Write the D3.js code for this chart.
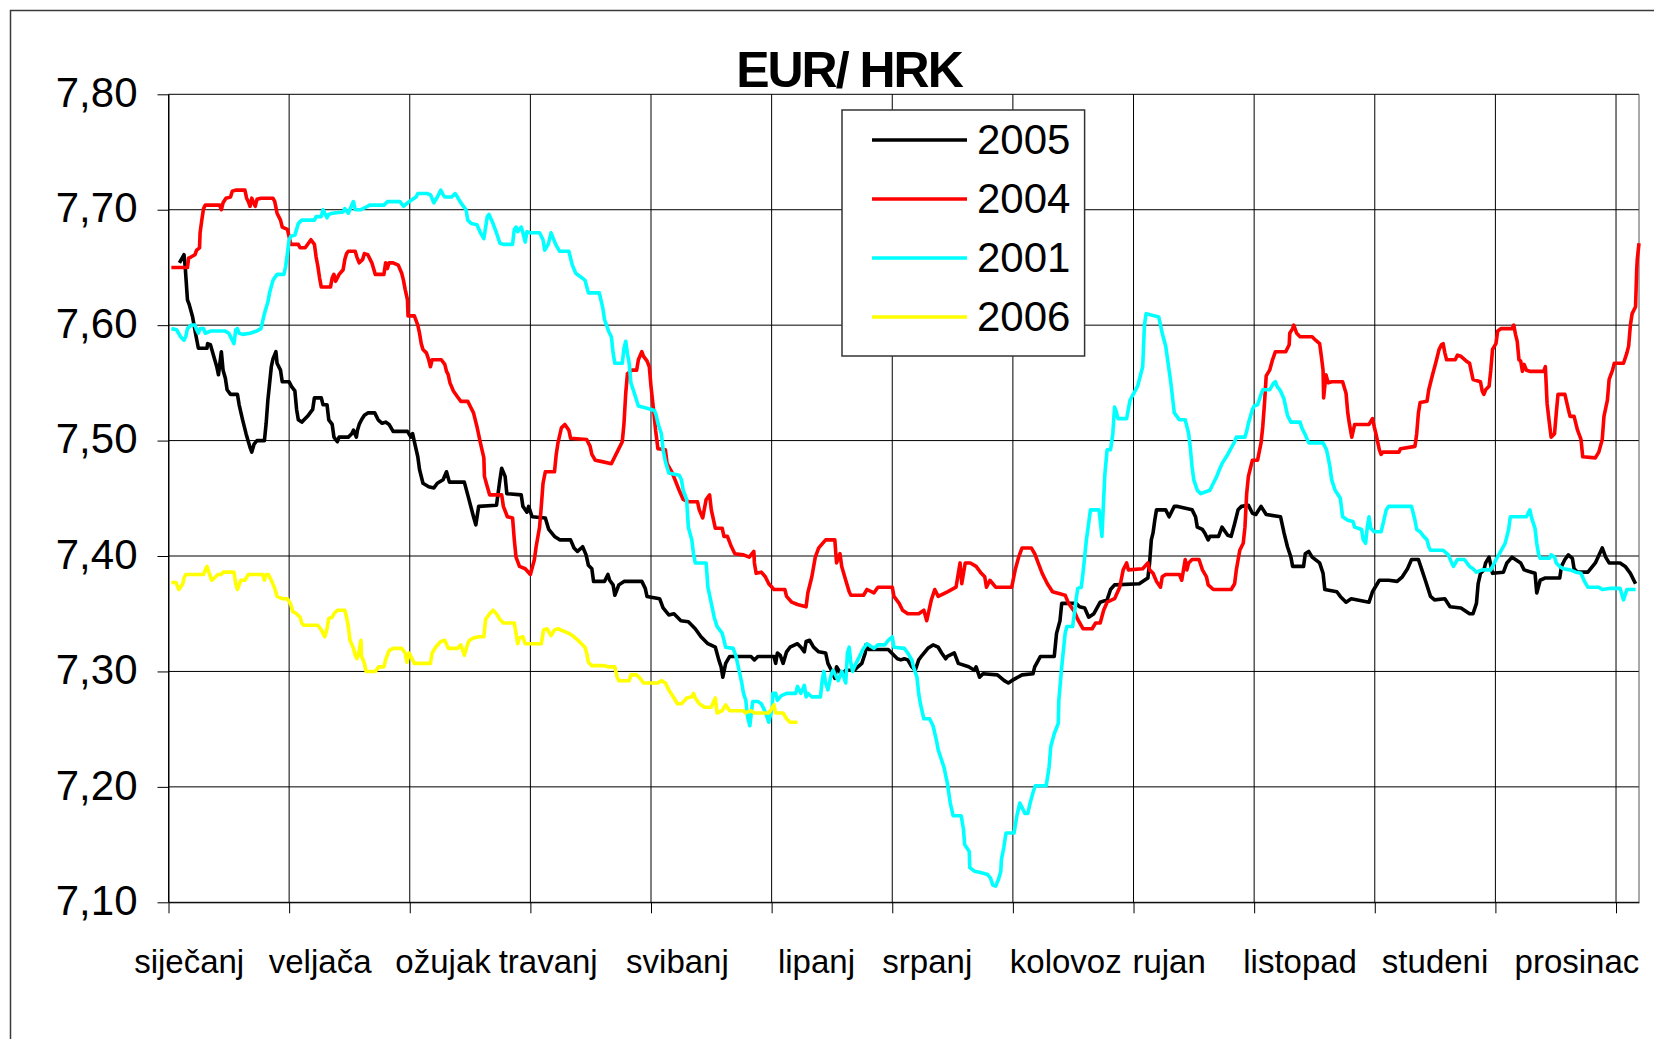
<!DOCTYPE html>
<html>
<head>
<meta charset="utf-8">
<script src="https://cdn.jsdelivr.net/npm/d3@7/dist/d3.min.js"></script>
<style>
  body { margin: 0; background: #fff; }
  svg text { font-family: "Liberation Sans", Arial, sans-serif; fill: #000; }
</style>
</head>
<body>
<div id="chart"></div>
<script>
// month labels and the working-day index each label sits over
const months = ["siječanj", "veljača", "ožujak", "travanj", "svibanj", "lipanj",
                "srpanj", "kolovoz", "rujan", "listopad", "studeni", "prosinac"];
const monthLabelDay = [3.6, 26.4, 47.8, 66.1, 88.6, 112.8, 132.1, 156.2, 174.2, 197.0, 220.5, 245.2];
const monthTickDays = [0, 21, 42, 63, 84, 105, 126, 147, 168, 189, 210, 231, 252];
const yTicks = [7.1, 7.2, 7.3, 7.4, 7.5, 7.6, 7.7, 7.8];

// [working day, EUR/HRK]
const s2005 = [[1.9,7.654],[2.7,7.661],[2.9,7.651],[3.3,7.622],[3.6,7.618],[4.2,7.607],[4.7,7.593],[5.2,7.58],[6.7,7.58],[6.8,7.584],[7.3,7.583],[8.0,7.571],[8.4,7.564],[8.7,7.557],[9.2,7.577],[9.5,7.561],[9.9,7.554],[10.2,7.544],[10.8,7.54],[12.0,7.54],[12.3,7.531],[12.9,7.518],[13.5,7.506],[14.2,7.494],[14.5,7.49],[14.9,7.497],[15.4,7.5],[16.7,7.5],[17.0,7.515],[17.3,7.535],[17.9,7.564],[18.2,7.571],[18.7,7.577],[18.9,7.567],[19.5,7.561],[19.8,7.551],[21.0,7.551],[21.4,7.547],[22.0,7.543],[22.3,7.527],[22.6,7.518],[23.2,7.516],[24.2,7.521],[25.1,7.527],[25.4,7.537],[26.6,7.537],[26.9,7.531],[27.6,7.531],[27.9,7.518],[28.5,7.514],[28.8,7.503],[29.4,7.499],[29.7,7.503],[31.3,7.503],[31.9,7.506],[32.2,7.509],[32.7,7.503],[32.9,7.509],[33.2,7.514],[33.6,7.518],[34.1,7.522],[34.7,7.524],[35.9,7.524],[36.5,7.518],[37.2,7.515],[37.8,7.516],[38.4,7.514],[39.1,7.508],[41.6,7.508],[42.2,7.503],[42.5,7.506],[42.8,7.499],[43.4,7.486],[43.7,7.475],[44.3,7.463],[45.3,7.46],[46.2,7.459],[46.8,7.463],[47.8,7.466],[48.4,7.473],[48.9,7.464],[51.5,7.464],[52.2,7.451],[53.1,7.434],[53.5,7.427],[54.0,7.443],[57.1,7.444],[57.7,7.466],[58.0,7.476],[58.6,7.469],[58.9,7.454],[61.4,7.453],[61.7,7.443],[62.4,7.438],[62.7,7.443],[63.3,7.434],[65.6,7.433],[66.2,7.423],[67.2,7.417],[68.1,7.414],[70.0,7.414],[70.6,7.407],[71.2,7.404],[72.1,7.408],[72.7,7.401],[73.1,7.392],[73.7,7.389],[74.0,7.378],[75.9,7.378],[76.5,7.384],[76.8,7.379],[77.4,7.375],[77.7,7.366],[78.4,7.375],[79.3,7.378],[82.4,7.378],[83.0,7.372],[83.3,7.365],[85.5,7.363],[86.1,7.355],[87.1,7.349],[88.0,7.35],[88.6,7.347],[89.2,7.344],[90.5,7.343],[91.7,7.337],[92.7,7.33],[93.9,7.324],[95.2,7.321],[95.8,7.31],[96.2,7.304],[96.5,7.295],[97.0,7.307],[97.7,7.313],[101.4,7.313],[102.0,7.31],[102.6,7.313],[105.4,7.313],[105.7,7.307],[106.0,7.316],[106.5,7.314],[107.0,7.307],[107.6,7.317],[108.2,7.321],[109.5,7.324],[110.1,7.321],[110.7,7.317],[111.0,7.326],[111.6,7.327],[112.3,7.321],[113.2,7.317],[114.4,7.316],[114.8,7.307],[115.4,7.301],[116.0,7.294],[116.3,7.304],[117.2,7.297],[117.9,7.301],[119.4,7.301],[120.0,7.304],[120.7,7.307],[121.3,7.316],[121.4,7.323],[121.9,7.319],[125.3,7.319],[125.9,7.316],[126.9,7.311],[127.5,7.31],[128.1,7.311],[128.7,7.31],[129.4,7.304],[130.0,7.301],[130.6,7.31],[131.2,7.314],[132.2,7.32],[133.1,7.323],[134.0,7.321],[134.6,7.316],[135.3,7.311],[135.6,7.313],[136.8,7.316],[137.5,7.307],[139.3,7.304],[140.3,7.301],[140.6,7.304],[141.2,7.295],[141.8,7.298],[144.3,7.297],[145.5,7.292],[146.2,7.29],[146.8,7.292],[148.6,7.297],[150.5,7.298],[150.8,7.304],[151.8,7.313],[154.2,7.313],[154.6,7.333],[155.2,7.344],[155.5,7.359],[158.0,7.359],[158.6,7.356],[159.5,7.355],[160.2,7.347],[161.1,7.35],[162.2,7.36],[163.4,7.362],[164.0,7.371],[164.7,7.375],[169.0,7.376],[169.9,7.379],[170.5,7.381],[170.8,7.394],[171.1,7.414],[171.4,7.42],[171.7,7.431],[172.0,7.44],[173.6,7.44],[174.2,7.434],[175.1,7.443],[175.7,7.443],[178.2,7.44],[178.8,7.434],[179.1,7.425],[180.0,7.423],[180.4,7.42],[181.0,7.414],[181.3,7.417],[182.8,7.417],[183.4,7.425],[184.4,7.418],[185.0,7.417],[185.6,7.428],[186.2,7.44],[186.8,7.443],[188.0,7.444],[188.7,7.437],[189.3,7.436],[190.2,7.443],[191.1,7.436],[193.6,7.434],[194.2,7.42],[194.8,7.408],[195.4,7.399],[195.7,7.391],[197.6,7.391],[197.9,7.402],[198.5,7.404],[199.1,7.399],[200.4,7.394],[201.0,7.385],[201.3,7.371],[203.4,7.369],[204.0,7.365],[205.0,7.36],[205.9,7.363],[209.0,7.36],[209.6,7.369],[210.8,7.379],[212.4,7.379],[213.9,7.378],[214.8,7.382],[215.7,7.389],[216.4,7.397],[217.6,7.397],[218.2,7.388],[218.8,7.379],[219.7,7.365],[220.4,7.362],[222.2,7.363],[223.1,7.356],[225.0,7.355],[226.5,7.35],[227.1,7.35],[227.7,7.359],[228.0,7.376],[228.4,7.385],[229.0,7.388],[229.3,7.394],[229.9,7.399],[230.5,7.385],[232.4,7.386],[233.0,7.394],[233.9,7.399],[235.4,7.394],[236.0,7.388],[237.3,7.386],[237.9,7.385],[238.2,7.368],[238.8,7.379],[239.7,7.381],[242.2,7.381],[242.5,7.391],[243.1,7.397],[243.7,7.401],[244.4,7.398],[244.7,7.389],[245.3,7.386],[247.1,7.386],[248.4,7.394],[249.6,7.407],[250.2,7.399],[250.8,7.394],[252.7,7.394],[253.6,7.391],[254.5,7.385],[255.4,7.376]];

const s2004 = [[0.5,7.65],[3.3,7.65],[3.5,7.658],[3.9,7.659],[4.6,7.661],[4.9,7.665],[5.4,7.667],[5.5,7.68],[5.8,7.691],[6.1,7.701],[6.4,7.704],[8.9,7.704],[9.2,7.7],[9.5,7.706],[10.0,7.71],[10.8,7.711],[11.1,7.716],[11.7,7.717],[13.3,7.717],[13.6,7.71],[13.9,7.707],[14.2,7.703],[14.5,7.71],[14.8,7.706],[15.1,7.703],[15.4,7.709],[16.1,7.71],[18.2,7.71],[18.5,7.707],[18.9,7.697],[19.5,7.691],[19.8,7.685],[20.7,7.683],[21.3,7.67],[22.6,7.67],[22.9,7.667],[23.8,7.667],[24.8,7.674],[25.4,7.67],[25.7,7.659],[26.0,7.651],[26.3,7.641],[26.6,7.633],[28.2,7.633],[28.5,7.641],[28.8,7.644],[29.1,7.638],[29.7,7.644],[30.4,7.648],[30.7,7.657],[31.0,7.662],[31.3,7.664],[32.5,7.664],[32.8,7.659],[33.2,7.654],[33.8,7.657],[34.1,7.662],[34.7,7.661],[35.4,7.654],[36.0,7.644],[37.5,7.644],[37.8,7.654],[38.1,7.649],[38.4,7.654],[39.1,7.654],[40.0,7.652],[40.6,7.645],[40.9,7.639],[41.2,7.631],[41.6,7.622],[41.7,7.608],[42.8,7.608],[43.4,7.6],[43.7,7.593],[44.0,7.584],[44.3,7.579],[44.9,7.576],[45.3,7.57],[45.6,7.564],[45.9,7.57],[47.5,7.57],[48.1,7.566],[48.4,7.56],[48.7,7.557],[49.0,7.55],[49.6,7.543],[50.3,7.538],[50.9,7.534],[52.1,7.534],[52.7,7.528],[53.1,7.524],[53.7,7.512],[54.3,7.498],[54.9,7.485],[55.0,7.469],[55.5,7.46],[55.9,7.453],[58.0,7.453],[58.3,7.443],[59.0,7.434],[59.9,7.433],[60.2,7.414],[60.5,7.399],[61.1,7.391],[62.1,7.389],[63.0,7.384],[63.7,7.397],[64.0,7.408],[64.6,7.425],[64.9,7.443],[65.2,7.463],[65.6,7.473],[67.2,7.473],[67.5,7.488],[67.8,7.498],[68.4,7.511],[69.0,7.514],[69.7,7.509],[70.0,7.502],[72.8,7.501],[73.4,7.495],[73.7,7.488],[74.3,7.483],[75.3,7.482],[77.1,7.48],[77.7,7.486],[78.4,7.493],[79.0,7.499],[79.3,7.515],[79.6,7.541],[79.9,7.558],[80.7,7.561],[81.5,7.561],[81.8,7.57],[82.4,7.577],[82.7,7.573],[83.3,7.569],[83.7,7.564],[84.0,7.547],[84.5,7.524],[84.8,7.509],[85.2,7.493],[86.5,7.492],[86.8,7.48],[87.7,7.472],[88.9,7.457],[89.6,7.449],[90.5,7.447],[92.1,7.447],[92.4,7.44],[93.0,7.433],[93.6,7.449],[94.2,7.453],[94.5,7.44],[95.2,7.424],[96.4,7.424],[96.7,7.417],[97.3,7.417],[98.0,7.408],[98.6,7.402],[100.1,7.401],[101.1,7.399],[101.9,7.404],[102.0,7.394],[102.3,7.385],[103.2,7.386],[103.9,7.382],[104.5,7.376],[105.4,7.371],[107.3,7.371],[107.6,7.365],[108.5,7.36],[109.5,7.358],[111.0,7.356],[111.3,7.368],[112.0,7.382],[112.6,7.399],[113.2,7.407],[114.4,7.414],[116.0,7.414],[116.3,7.394],[116.9,7.402],[117.2,7.391],[117.9,7.379],[118.5,7.369],[118.8,7.366],[121.0,7.366],[121.6,7.371],[122.8,7.368],[123.5,7.373],[126.0,7.373],[126.3,7.365],[127.2,7.359],[127.8,7.353],[128.7,7.35],[130.6,7.35],[131.5,7.353],[132.0,7.344],[132.8,7.362],[133.4,7.371],[134.0,7.365],[135.6,7.369],[137.1,7.373],[137.5,7.385],[137.8,7.394],[138.1,7.376],[138.7,7.394],[139.6,7.394],[140.6,7.391],[141.5,7.385],[142.1,7.382],[142.4,7.373],[143.0,7.379],[144.0,7.373],[146.8,7.373],[147.4,7.388],[148.0,7.399],[148.6,7.407],[150.2,7.407],[150.8,7.402],[151.4,7.394],[152.1,7.385],[153.0,7.376],[153.9,7.369],[156.1,7.366],[156.7,7.359],[157.7,7.352],[158.3,7.345],[159.2,7.337],[160.8,7.337],[161.4,7.342],[162.2,7.342],[162.8,7.353],[163.4,7.36],[164.7,7.363],[165.6,7.373],[166.2,7.388],[166.8,7.394],[167.1,7.388],[169.6,7.389],[170.5,7.394],[170.8,7.388],[171.4,7.385],[172.0,7.378],[172.7,7.373],[173.0,7.382],[173.6,7.384],[176.0,7.384],[176.4,7.379],[177.0,7.397],[177.3,7.388],[177.6,7.394],[178.2,7.397],[179.4,7.397],[180.0,7.388],[180.7,7.382],[181.0,7.375],[181.9,7.371],[185.0,7.371],[185.6,7.376],[185.9,7.388],[186.5,7.405],[187.1,7.411],[187.4,7.425],[187.7,7.454],[188.0,7.469],[188.7,7.483],[189.6,7.483],[190.2,7.498],[190.5,7.512],[190.8,7.532],[191.1,7.556],[191.7,7.561],[192.2,7.57],[192.7,7.577],[194.5,7.577],[195.1,7.583],[195.2,7.593],[195.7,7.597],[195.9,7.6],[196.4,7.593],[197.0,7.59],[199.1,7.59],[199.7,7.587],[200.4,7.584],[200.7,7.573],[201.0,7.561],[201.1,7.537],[201.5,7.557],[201.9,7.55],[202.5,7.551],[204.4,7.551],[205.0,7.541],[205.3,7.524],[205.6,7.514],[206.0,7.503],[206.5,7.514],[209.0,7.514],[209.6,7.519],[209.9,7.512],[210.2,7.506],[210.8,7.492],[211.1,7.488],[211.4,7.49],[214.2,7.49],[214.5,7.493],[217.0,7.495],[217.3,7.506],[217.6,7.524],[217.9,7.533],[219.1,7.534],[219.4,7.544],[220.0,7.556],[220.7,7.569],[221.2,7.579],[221.6,7.583],[221.9,7.584],[222.2,7.576],[222.5,7.57],[224.0,7.57],[224.4,7.574],[225.0,7.573],[225.9,7.569],[226.5,7.567],[226.8,7.56],[227.1,7.553],[228.4,7.551],[228.7,7.543],[229.0,7.54],[229.3,7.544],[229.9,7.547],[230.2,7.561],[230.5,7.579],[231.1,7.584],[231.4,7.595],[232.0,7.597],[233.9,7.597],[234.2,7.6],[234.5,7.592],[234.8,7.586],[235.1,7.57],[235.4,7.569],[235.7,7.56],[236.0,7.566],[236.4,7.561],[237.0,7.56],[239.4,7.56],[239.7,7.564],[240.0,7.532],[240.4,7.515],[240.7,7.503],[241.3,7.506],[241.6,7.524],[241.9,7.54],[243.1,7.54],[243.7,7.527],[244.0,7.521],[244.7,7.521],[245.3,7.509],[245.9,7.501],[246.2,7.486],[248.4,7.485],[249.0,7.49],[249.6,7.501],[249.9,7.521],[250.5,7.535],[250.8,7.553],[251.4,7.561],[251.7,7.567],[253.3,7.567],[253.9,7.576],[254.2,7.582],[254.5,7.6],[254.8,7.61],[255.4,7.616],[255.6,7.648],[255.7,7.657],[256.0,7.671]];

const s2001 = [[0.5,7.597],[1.4,7.596],[2.1,7.59],[2.7,7.587],[3.0,7.59],[3.3,7.597],[3.9,7.6],[4.6,7.6],[4.9,7.596],[5.2,7.593],[5.5,7.597],[6.1,7.597],[6.4,7.593],[7.4,7.595],[9.8,7.595],[10.5,7.593],[11.1,7.587],[11.4,7.584],[11.7,7.596],[12.0,7.597],[12.3,7.593],[12.9,7.592],[14.2,7.593],[15.4,7.595],[16.1,7.597],[16.7,7.61],[17.3,7.62],[17.6,7.628],[18.2,7.639],[18.9,7.644],[20.1,7.644],[20.4,7.651],[20.7,7.662],[21.0,7.674],[21.3,7.677],[22.0,7.678],[22.6,7.688],[23.2,7.691],[25.4,7.691],[25.7,7.694],[26.6,7.694],[26.9,7.7],[27.6,7.693],[27.9,7.696],[28.5,7.697],[30.4,7.698],[30.7,7.701],[31.3,7.697],[31.9,7.704],[32.2,7.707],[32.5,7.7],[33.5,7.7],[34.7,7.703],[35.0,7.704],[37.5,7.704],[38.1,7.707],[40.3,7.707],[40.9,7.703],[41.9,7.707],[42.5,7.709],[43.1,7.711],[43.4,7.714],[45.0,7.714],[45.6,7.713],[46.2,7.706],[46.8,7.711],[47.4,7.717],[47.8,7.713],[48.1,7.711],[49.3,7.711],[49.9,7.714],[50.3,7.711],[50.9,7.706],[51.8,7.7],[52.1,7.691],[52.7,7.688],[53.7,7.687],[54.3,7.68],[54.9,7.675],[55.5,7.694],[55.8,7.696],[56.5,7.688],[57.1,7.68],[57.7,7.671],[58.3,7.67],[59.9,7.67],[60.2,7.683],[60.5,7.685],[60.8,7.681],[61.4,7.685],[61.7,7.68],[62.1,7.672],[62.4,7.681],[63.0,7.68],[64.6,7.68],[65.2,7.674],[65.5,7.665],[66.1,7.67],[66.6,7.68],[67.4,7.67],[68.1,7.664],[69.7,7.664],[70.3,7.652],[70.9,7.645],[72.5,7.639],[73.1,7.628],[75.0,7.628],[75.6,7.615],[75.9,7.605],[76.6,7.595],[77.1,7.59],[77.4,7.576],[77.7,7.567],[79.0,7.567],[79.3,7.58],[79.6,7.586],[79.9,7.575],[80.2,7.567],[80.5,7.55],[81.1,7.541],[81.8,7.53],[83.3,7.528],[84.6,7.526],[84.9,7.522],[85.2,7.515],[85.8,7.506],[86.1,7.492],[86.5,7.482],[87.1,7.472],[88.9,7.47],[89.3,7.466],[89.6,7.457],[90.2,7.449],[90.5,7.425],[91.1,7.414],[91.4,7.402],[91.7,7.394],[93.6,7.394],[93.9,7.373],[94.5,7.359],[95.0,7.347],[95.5,7.339],[96.4,7.333],[97.0,7.321],[98.3,7.32],[98.8,7.313],[99.2,7.304],[99.8,7.29],[100.1,7.281],[100.5,7.275],[100.8,7.261],[101.2,7.253],[101.7,7.274],[102.6,7.274],[103.2,7.272],[103.9,7.265],[104.5,7.256],[105.1,7.269],[105.2,7.281],[105.7,7.281],[106.0,7.275],[106.7,7.279],[107.6,7.281],[109.2,7.281],[109.5,7.287],[110.1,7.281],[110.7,7.288],[111.0,7.278],[111.3,7.281],[112.0,7.278],[113.5,7.278],[113.8,7.292],[114.1,7.3],[114.4,7.29],[114.8,7.284],[115.4,7.298],[115.7,7.301],[116.6,7.292],[117.2,7.3],[117.9,7.29],[118.2,7.316],[118.5,7.321],[118.8,7.307],[119.1,7.3],[119.4,7.304],[120.0,7.31],[120.4,7.314],[121.0,7.32],[121.6,7.324],[122.8,7.32],[123.5,7.323],[124.7,7.323],[125.3,7.327],[126.0,7.33],[126.3,7.321],[128.1,7.32],[128.7,7.316],[129.4,7.31],[129.7,7.304],[130.3,7.295],[130.6,7.281],[130.9,7.272],[131.5,7.259],[132.5,7.259],[133.1,7.253],[133.7,7.24],[134.0,7.232],[135.0,7.217],[135.6,7.203],[136.1,7.186],[136.6,7.175],[138.0,7.175],[138.4,7.163],[138.6,7.15],[139.4,7.144],[139.5,7.13],[140.3,7.127],[141.2,7.126],[142.6,7.124],[143.1,7.121],[143.5,7.115],[144.0,7.114],[144.5,7.12],[144.9,7.127],[145.0,7.137],[145.4,7.147],[145.8,7.16],[147.2,7.16],[147.7,7.175],[148.2,7.186],[149.1,7.177],[149.6,7.177],[150.0,7.186],[150.5,7.195],[150.9,7.201],[152.8,7.201],[153.3,7.217],[153.6,7.235],[154.2,7.246],[154.9,7.255],[155.0,7.275],[155.5,7.304],[156.1,7.333],[156.4,7.339],[157.4,7.339],[157.7,7.35],[158.0,7.362],[158.3,7.372],[158.9,7.373],[159.2,7.385],[159.8,7.414],[160.1,7.425],[160.5,7.44],[162.0,7.44],[162.5,7.417],[163.0,7.47],[163.4,7.492],[164.0,7.492],[164.4,7.506],[164.7,7.529],[165.0,7.525],[165.3,7.519],[166.8,7.519],[167.4,7.535],[168.7,7.547],[169.6,7.564],[169.9,7.6],[170.2,7.61],[172.4,7.607],[173.0,7.593],[173.6,7.582],[174.5,7.55],[175.1,7.524],[176.0,7.518],[177.0,7.518],[177.6,7.506],[177.9,7.493],[178.2,7.477],[178.5,7.466],[179.1,7.457],[179.7,7.454],[181.3,7.457],[181.9,7.463],[182.5,7.469],[182.8,7.473],[183.4,7.48],[184.4,7.488],[185.6,7.499],[185.9,7.503],[187.4,7.503],[187.7,7.508],[188.0,7.515],[188.7,7.527],[189.0,7.53],[189.6,7.531],[190.2,7.54],[190.5,7.544],[191.7,7.544],[192.4,7.55],[192.7,7.551],[193.0,7.547],[193.6,7.543],[194.2,7.536],[194.8,7.522],[195.4,7.516],[197.0,7.516],[197.3,7.511],[197.9,7.505],[198.5,7.498],[201.0,7.498],[201.6,7.492],[201.9,7.485],[202.2,7.477],[202.5,7.466],[203.1,7.457],[204.0,7.45],[204.4,7.434],[205.3,7.431],[206.2,7.43],[206.5,7.425],[207.1,7.424],[207.7,7.423],[208.0,7.414],[208.4,7.411],[208.7,7.425],[209.0,7.434],[209.3,7.424],[209.9,7.421],[211.1,7.421],[211.4,7.427],[212.0,7.44],[212.4,7.443],[216.4,7.443],[217.0,7.431],[217.3,7.423],[217.9,7.421],[218.5,7.417],[219.1,7.414],[219.4,7.408],[219.7,7.405],[221.9,7.405],[222.8,7.401],[223.4,7.394],[223.7,7.391],[224.4,7.397],[225.6,7.397],[226.5,7.391],[227.1,7.389],[227.7,7.386],[228.7,7.388],[230.2,7.388],[230.8,7.394],[231.7,7.402],[232.7,7.411],[233.3,7.423],[233.6,7.434],[236.4,7.434],[236.7,7.437],[237.0,7.44],[237.3,7.433],[237.9,7.424],[238.2,7.411],[238.5,7.402],[238.8,7.398],[240.4,7.398],[240.7,7.401],[241.3,7.399],[241.6,7.394],[242.2,7.391],[242.8,7.389],[244.0,7.388],[245.0,7.386],[245.9,7.385],[246.5,7.378],[247.1,7.373],[249.0,7.373],[249.6,7.371],[251.1,7.372],[252.7,7.372],[253.3,7.362],[253.9,7.371],[255.4,7.371]];

const s2006 = [[0.5,7.377],[1.3,7.377],[1.8,7.371],[2.1,7.373],[2.5,7.376],[2.7,7.381],[3.0,7.384],[6.1,7.384],[6.4,7.388],[6.7,7.391],[7.1,7.385],[7.5,7.379],[8.0,7.381],[8.6,7.384],[9.2,7.384],[9.5,7.386],[11.4,7.386],[11.7,7.376],[12.0,7.371],[12.3,7.375],[12.6,7.379],[13.3,7.379],[13.9,7.384],[16.4,7.384],[16.7,7.379],[17.0,7.384],[17.4,7.384],[17.9,7.379],[18.5,7.372],[18.9,7.365],[19.8,7.363],[20.7,7.363],[21.3,7.358],[21.6,7.352],[22.3,7.35],[22.9,7.347],[23.2,7.342],[23.5,7.34],[26.0,7.34],[26.6,7.336],[26.9,7.333],[27.2,7.33],[27.6,7.337],[27.9,7.346],[28.5,7.347],[28.8,7.35],[29.4,7.353],[30.7,7.353],[31.0,7.347],[31.3,7.339],[31.6,7.327],[32.2,7.32],[32.5,7.314],[32.8,7.311],[33.2,7.318],[33.5,7.327],[33.6,7.313],[33.8,7.311],[34.1,7.307],[34.4,7.3],[36.0,7.3],[36.6,7.304],[37.5,7.304],[37.8,7.31],[38.4,7.318],[39.1,7.32],[40.6,7.32],[41.2,7.316],[41.5,7.308],[41.9,7.316],[42.2,7.313],[42.8,7.307],[45.6,7.307],[45.9,7.316],[46.5,7.321],[47.4,7.326],[48.1,7.327],[48.7,7.32],[50.3,7.32],[50.9,7.323],[51.5,7.314],[52.1,7.324],[52.4,7.327],[53.1,7.329],[54.0,7.33],[54.9,7.33],[55.2,7.345],[55.9,7.35],[56.5,7.353],[57.1,7.35],[57.7,7.345],[58.3,7.342],[60.2,7.342],[60.5,7.333],[60.8,7.324],[61.1,7.329],[61.7,7.33],[62.1,7.324],[64.9,7.324],[65.3,7.336],[65.9,7.337],[66.6,7.331],[67.2,7.336],[67.8,7.337],[69.7,7.333],[70.6,7.33],[71.5,7.326],[72.5,7.321],[72.8,7.316],[73.1,7.308],[73.7,7.305],[75.9,7.305],[76.5,7.304],[77.7,7.304],[78.1,7.295],[78.4,7.292],[80.2,7.292],[80.5,7.297],[81.5,7.297],[82.1,7.294],[82.7,7.29],[85.2,7.29],[85.8,7.292],[86.5,7.29],[87.1,7.284],[88.0,7.277],[88.6,7.272],[89.3,7.272],[89.9,7.275],[90.2,7.277],[91.1,7.278],[91.4,7.281],[91.7,7.277],[92.4,7.272],[93.3,7.269],[94.5,7.269],[94.9,7.274],[95.2,7.277],[95.5,7.264],[96.4,7.266],[97.0,7.271],[97.7,7.266],[100.1,7.266],[100.4,7.264],[100.8,7.265],[101.4,7.266],[102.0,7.264],[104.5,7.264],[104.8,7.266],[105.4,7.271],[105.7,7.264],[107.0,7.264],[107.6,7.259],[108.2,7.256],[109.5,7.256]];

const seriesNames = ["2005", "2004", "2001", "2006"];
const seriesData = [s2005, s2004, s2001, s2006];
const seriesColors = ["#000000", "#ff0000", "#00ffff", "#ffff00"];

const width = 1654, height = 1039;
const plot = {left: 168.5, right: 1639, top: 94.3, bottom: 902.3};

let svg = d3.select('#chart').append('svg')
    .attr('width', width)
    .attr('height', height);

// outer chart frame (runs off the right and bottom of the picture)
svg.append('rect')
    .attr('x', 10.5).attr('y', 10.5)
    .attr('width', 1700).attr('height', 1100)
    .attr('fill', 'none')
    .attr('stroke', '#3a3a3a')
    .attr('stroke-width', 1.5);

let x = d3.scaleLinear().domain([0, 256]).range([plot.left, plot.right]);
let y = d3.scaleLinear().domain([7.1, 7.8]).range([plot.bottom, plot.top]);

// horizontal grid
svg.append('g')
    .selectAll('line')
    .data(yTicks)
    .enter().append('line')
    .attr('x1', plot.left).attr('x2', plot.right)
    .attr('y1', d => y(d)).attr('y2', d => y(d))
    .attr('stroke', '#000').attr('stroke-width', 1);

// vertical month grid
svg.append('g')
    .selectAll('line')
    .data(monthTickDays)
    .enter().append('line')
    .attr('x1', d => x(d)).attr('x2', d => x(d))
    .attr('y1', plot.top).attr('y2', plot.bottom)
    .attr('stroke', '#000').attr('stroke-width', 1);

// right border of the plot area
svg.append('line')
    .attr('x1', plot.right).attr('x2', plot.right)
    .attr('y1', plot.top).attr('y2', plot.bottom)
    .attr('stroke', '#555').attr('stroke-width', 1);

// y axis
let yAxis = d3.axisLeft(y)
    .tickValues(yTicks)
    .tickSize(11)
    .tickSizeOuter(0)
    .tickPadding(20)
    .tickFormat(d => d3.format('.2f')(d).replace('.', ','));

let gy = svg.append('g')
    .attr('transform', `translate(${plot.left},0)`)
    .call(yAxis);
gy.selectAll('text')
    .style('font-size', '42px')
    .attr('dy', '0.29em');
gy.selectAll('line, path').attr('stroke', '#000');

// x axis: tick marks only, month names are placed by hand-read day index
let xAxis = d3.axisBottom(x)
    .tickValues(monthTickDays)
    .tickSize(11)
    .tickSizeOuter(0)
    .tickFormat('');

let gx = svg.append('g')
    .attr('transform', `translate(0,${plot.bottom})`)
    .call(xAxis);
gx.selectAll('line, path').attr('stroke', '#000');

svg.append('g')
    .selectAll('text')
    .data(months)
    .enter().append('text')
    .attr('x', (d, i) => x(monthLabelDay[i]))
    .attr('y', 973)
    .attr('text-anchor', 'middle')
    .style('font-size', '33px')
    .text(d => d);

// series, drawn in legend order like the original
let line = d3.line()
    .x(d => x(d[0]))
    .y(d => y(d[1]));

svg.append('g')
    .selectAll('path')
    .data(seriesData)
    .enter().append('path')
    .attr('d', line)
    .attr('fill', 'none')
    .attr('stroke', (d, i) => seriesColors[i])
    .attr('stroke-width', 3.6)
    .attr('stroke-linejoin', 'round');

// title
svg.append('text')
    .attr('x', 849)
    .attr('y', 87)
    .attr('text-anchor', 'middle')
    .style('font-size', '50px')
    .style('font-weight', 'bold')
    .style('letter-spacing', '-2px')
    .text('EUR/ HRK');

// legend
let legend = svg.append('g').attr('transform', 'translate(842,110)');
legend.append('rect')
    .attr('width', 242.6).attr('height', 246)
    .attr('fill', '#fff')
    .attr('stroke', '#333')
    .attr('stroke-width', 1.5);

let items = legend.selectAll('g.item')
    .data(seriesNames)
    .enter().append('g')
    .attr('class', 'item')
    .attr('transform', (d, i) => `translate(0,${30 + i * 59})`);

items.append('line')
    .attr('x1', 30).attr('x2', 125)
    .attr('stroke', (d, i) => seriesColors[i])
    .attr('stroke-width', 3.6);

items.append('text')
    .attr('x', 135)
    .attr('y', 14)
    .style('font-size', '42px')
    .text(d => d);
</script>
</body>
</html>
